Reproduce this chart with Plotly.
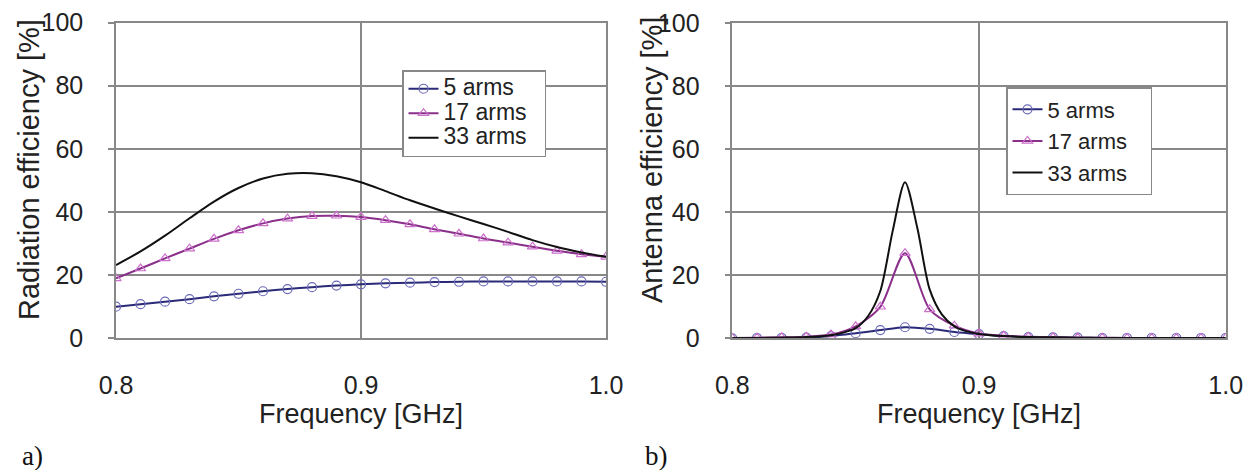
import plotly.graph_objects as go

# ---- data ----
freq = [0.80, 0.81, 0.82, 0.83, 0.84, 0.85, 0.86, 0.87, 0.88, 0.89, 0.90,
        0.91, 0.92, 0.93, 0.94, 0.95, 0.96, 0.97, 0.98, 0.99, 1.00]

# a) Radiation efficiency [%]
rad_5 = [10.0, 10.8, 11.6, 12.4, 13.3, 14.1, 14.9, 15.6, 16.2, 16.7, 17.1,
         17.4, 17.6, 17.8, 17.9, 18.0, 18.0, 18.0, 18.0, 18.0, 17.9]
rad_17 = [19.0, 22.1, 25.3, 28.4, 31.5, 34.2, 36.4, 37.9, 38.7, 38.8, 38.4,
          37.4, 36.1, 34.5, 33.1, 31.6, 30.3, 29.0, 27.7, 26.6, 25.8]
rad_33 = [23.2, 27.5, 32.5, 38.0, 43.3, 47.6, 50.6, 52.1, 52.3, 51.3, 49.4,
          46.6, 43.7, 41.1, 38.6, 36.2, 33.7, 31.1, 28.9, 27.2, 25.8]

# b) Antenna efficiency [%]
ant_5 = [0.0, 0.1, 0.1, 0.2, 0.7, 1.6, 2.6, 3.5, 3.0, 2.0, 1.3,
         0.7, 0.4, 0.3, 0.2, 0.1, 0.1, 0.1, 0.1, 0.1, 0.1]
ant_17 = [0.1, 0.2, 0.3, 0.5, 1.2, 3.8, 10.0, 27.0, 9.2, 4.0, 1.5,
          0.8, 0.5, 0.3, 0.2, 0.2, 0.1, 0.1, 0.1, 0.1, 0.1]
freq_33 = [0.80, 0.81, 0.82, 0.83, 0.84, 0.845, 0.85, 0.855, 0.86, 0.865, 0.87,
           0.875, 0.88, 0.885, 0.89, 0.895, 0.90, 0.91, 0.92, 0.93, 0.94,
           0.95, 0.96, 0.97, 0.98, 0.99, 1.00]
ant_33 = [0.1, 0.1, 0.2, 0.4, 1.0, 1.8, 3.2, 7.0, 15.0, 34.0, 49.5,
          35.0, 15.5, 7.5, 3.8, 2.2, 1.4, 0.7, 0.4, 0.3, 0.2,
          0.1, 0.1, 0.1, 0.1, 0.1, 0.1]

x_ticks = [0.8, 0.9, 1.0]
x_ticktext = ["0.8", "0.9", "1.0"]
y_ticks = [0, 20, 40, 60, 80, 100]
names = ["5 arms", "17 arms", "33 arms"]

# ---- styles ----
C5_LINE, C5_MARK = "#2a2a78", "#6a6ab8"
C17_LINE, C17_MARK = "#8a2f8a", "#cc70cc"
GRID = "#888888"
FONT = "Liberation Sans, Arial, sans-serif"

fig = go.Figure()


def add_series(x, y, name, xa, ya, leg, line_color, mark_color, symbol, label):
    kw = dict(x=x, y=y, name=label, xaxis=xa, yaxis=ya, legend=leg,
              hovertemplate=name + ": %{y}<extra></extra>",
              line=dict(color=line_color, width=2, shape="spline", smoothing=0.8))
    if symbol:
        kw["mode"] = "lines+markers"
        kw["marker"] = dict(symbol=symbol, size=9, color=mark_color,
                            line=dict(width=1.2, color=mark_color))
    else:
        kw["mode"] = "lines"
    fig.add_trace(go.Scatter(**kw))


def left_label(n):
    return '<span style="font-size:23px">' + n + '&nbsp;&nbsp;</span>'


def right_label(n):
    return n + '&nbsp;&nbsp;&nbsp;'


add_series(freq, rad_5, names[0], "x", "y", "legend", C5_LINE, C5_MARK, "circle-open", left_label(names[0]))
add_series(freq, rad_17, names[1], "x", "y", "legend", C17_LINE, C17_MARK, "triangle-up-open", left_label(names[1]))
add_series(freq, rad_33, names[2], "x", "y", "legend", "#111111", None, None, left_label(names[2]))

add_series(freq, ant_5, names[0], "x2", "y2", "legend2", C5_LINE, C5_MARK, "circle-open", right_label(names[0]))
add_series(freq, ant_17, names[1], "x2", "y2", "legend2", C17_LINE, C17_MARK, "triangle-up-open", right_label(names[1]))
add_series(freq_33, ant_33, names[2], "x2", "y2", "legend2", "#111111", None, None, right_label(names[2]))

W, H = 1255, 470

xaxis_common = dict(range=[0.8, 1.0], tickvals=x_ticks, ticktext=x_ticktext,
                    showgrid=True, gridcolor=GRID, gridwidth=1.5,
                    showline=True, linecolor=GRID, linewidth=1.5, mirror=True,
                    ticks="", ticklabelstandoff=24, zeroline=False, automargin=False,
                    tickfont=dict(family=FONT, size=25, color="#222222"),
                    title=dict(text="Frequency [GHz]", standoff=0,
                               font=dict(family=FONT, size=27, color="#222222")))
yaxis_common = dict(range=[0, 100], tickvals=y_ticks,
                    showgrid=True, gridcolor=GRID, gridwidth=1.5,
                    showline=True, linecolor=GRID, linewidth=1.5, mirror=True,
                    ticks="outside", ticklen=6, tickcolor=GRID, tickwidth=1.5,
                    ticklabelstandoff=20, zeroline=False, automargin=False,
                    tickfont=dict(family=FONT, size=25, color="#222222"))

legend_common = dict(bgcolor="white", bordercolor=GRID, borderwidth=1.5,
                     itemwidth=30, xanchor="left", yanchor="top")

fig.update_layout(
    width=W, height=H,
    margin=dict(l=0, r=0, t=0, b=0, autoexpand=False),
    paper_bgcolor="white", plot_bgcolor="white",
    xaxis=dict(domain=[116 / W, 606 / W], anchor="y", **xaxis_common),
    yaxis=dict(domain=[1 - 338.3 / H, 1 - 22.5 / H], anchor="x", **yaxis_common),
    xaxis2=dict(domain=[732.3 / W, 1225.7 / W], anchor="y2", **xaxis_common),
    yaxis2=dict(domain=[1 - 338.3 / H, 1 - 23 / H], anchor="x2", **yaxis_common),
    legend=dict(x=402 / W, y=1 - 70 / H,
                font=dict(family=FONT, size=16.5, color="#222222"), **legend_common),
    legend2=dict(x=1006 / W, y=1 - 87 / H,
                 font=dict(family=FONT, size=22, color="#222222"), **legend_common),
    showlegend=True,
)

# y-axis titles and panel labels
fig.add_annotation(text="Radiation efficiency [%]", xref="paper", yref="paper",
                   x=29 / W, y=1 - 170 / H, textangle=-90, showarrow=False,
                   xanchor="center", yanchor="middle",
                   font=dict(family=FONT, size=29, color="#222222"))
fig.add_annotation(text="Antenna efficiency [%]", xref="paper", yref="paper",
                   x=652 / W, y=1 - 160 / H, textangle=-90, showarrow=False,
                   xanchor="center", yanchor="middle",
                   font=dict(family=FONT, size=29, color="#222222"))
fig.add_annotation(text="a)", xref="paper", yref="paper", x=20 / W, y=1 - 456 / H,
                   xanchor="left", yanchor="middle", showarrow=False,
                   font=dict(family="Liberation Serif, serif", size=27, color="#111111"))
fig.add_annotation(text="b)", xref="paper", yref="paper", x=643 / W, y=1 - 456 / H,
                   xanchor="left", yanchor="middle", showarrow=False,
                   font=dict(family="Liberation Serif, serif", size=27, color="#111111"))

fig.write_html("out.html")
